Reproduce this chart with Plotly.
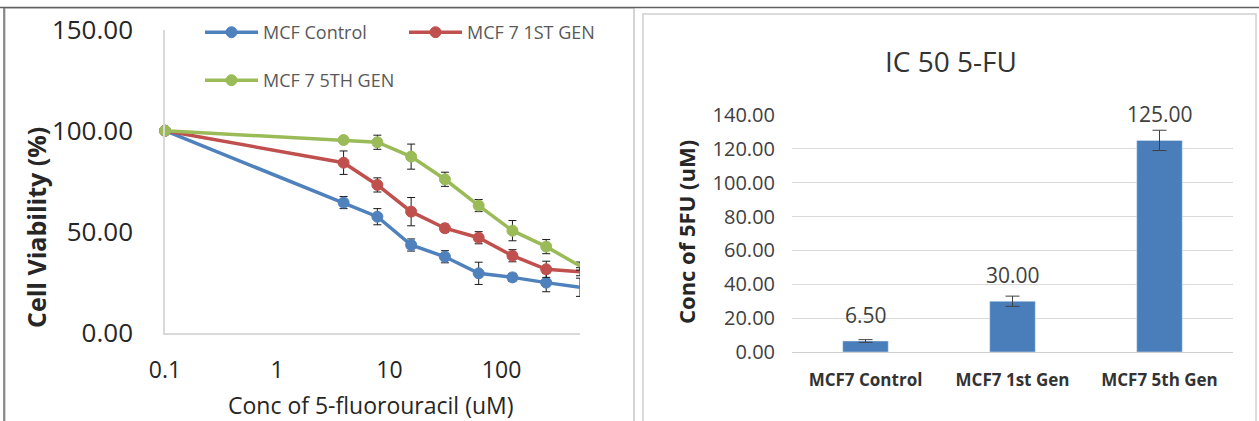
import plotly.graph_objects as go

# ---------------- data ----------------
conc = [0.1, 3.90625, 7.8125, 15.625, 31.25, 62.5, 125, 250, 500]
control = [100, 64.5, 57.5, 43.5, 37.7, 29.5, 27.5, 24.9, 22.6]
control_err = [0, 3, 4, 3, 3, 5.5, 2, 4.5, 4.5]
gen1 = [100, 84.2, 73.2, 60.0, 51.8, 47.1, 38.2, 31.5, 30.3]
gen1_err = [0, 5.8, 3.5, 7, 2, 3, 3, 4, 2]
gen5 = [100, 95.4, 94.3, 87.2, 76.0, 63.0, 50.6, 42.7, 33.1]
gen5_err = [0, 1, 3.5, 6.2, 3.5, 3, 5, 3.5, 2]
series_names = ["MCF Control", "MCF 7 1ST GEN", "MCF 7 5TH GEN"]

x_tickvals = [0.1, 1, 10, 100]
x_ticktext = ["0.1", "1", "10", "100"]
y1_tickvals = [0, 50, 100, 150]

ic_cats = ["MCF7 Control", "MCF7 1st Gen", "MCF7 5th Gen"]
ic50 = [6.5, 30, 125]
ic50_err = [0.8, 3, 6]
y2_tickvals = [0, 20, 40, 60, 80, 100, 120, 140]

# ---------------- layout helpers (pixel geometry) ----------------
W, H = 1259, 421
def px(x):
    return x / W
def py(y):
    return (H - y) / H

BLUE, RED, GREEN = "#4F81BD", "#C0504D", "#9BBB59"
FONT = "Open Sans"

fig = go.Figure()

for name, vals, err, col, lg in [
    (series_names[0], control, control_err, BLUE, "legend"),
    (series_names[1], gen1, gen1_err, RED, "legend"),
    (series_names[2], gen5, gen5_err, GREEN, "legend2"),
]:
    fig.add_trace(go.Scatter(
        x=conc, y=vals, name=name, mode="lines+markers",
        line=dict(color=col, width=3.5),
        marker=dict(color=col, size=11, line=dict(color=col, width=1)),
        error_y=dict(type="data", array=err, visible=True, color="#1a1a1a",
                     thickness=1, width=4),
        cliponaxis=False, xaxis="x", yaxis="y", legend=lg,
    ))

fig.add_trace(go.Bar(
    x=ic_cats, y=ic50, marker=dict(color="#4A7EBB"), width=0.31,
    error_y=dict(type="data", array=ic50_err, visible=True, color="#404040",
                 thickness=1, width=7),
    xaxis="x2", yaxis="y2", showlegend=False,
))

annotations = []
for c, v in zip(ic_cats, ic50):
    annotations.append(dict(x=c, y=v, xref="x2", yref="y2", text=f"{v:.2f}",
                            showarrow=False, yshift=26, xanchor="center", yanchor="middle",
                            font=dict(family=FONT, size=21, color="#404040")))

def ann(x, y, text, size, angle=0, color="#262626"):
    return dict(x=px(x), y=py(y), xref="paper", yref="paper", text=text,
                textangle=angle, showarrow=False, xanchor="center", yanchor="middle",
                font=dict(family=FONT, size=size, color=color))

annotations += [
    ann(36, 228, "<b>Cell Viability (%)</b>", 25, -90),
    ann(371, 404.5, "Conc of 5-fluorouracil (uM)", 23),
    ann(686, 232, "<b>Conc of 5FU (uM)</b>", 22, -90),
    ann(951, 61, "IC 50 5-FU", 28, 0, "#333333"),
]

shapes = [
    dict(type="rect", xref="paper", yref="paper", x0=px(5), x1=px(634),
         y0=py(430), y1=py(8), line=dict(color="#C8C8C8", width=1.5), layer="below"),
    dict(type="rect", xref="paper", yref="paper", x0=px(643), x1=px(1256),
         y0=py(430), y1=py(14), line=dict(color="#D0D0D0", width=1.5), layer="below"),
    dict(type="line", xref="paper", yref="paper", x0=px(4), x1=px(4),
         y0=py(430), y1=py(8), line=dict(color="#6E6E6E", width=1.5)),
    dict(type="line", xref="paper", yref="paper", x0=0, x1=1,
         y0=py(7.5), y1=py(7.5), line=dict(color="#606060", width=1.5)),
]

fig.update_layout(
    width=W, height=H, margin=dict(l=0, r=0, t=0, b=0, autoexpand=False),
    paper_bgcolor="white", plot_bgcolor="white",
    font=dict(family=FONT),
    xaxis=dict(type="log", domain=[px(165), px(580)], automargin=False,
               range=[-1, 2.69897], tickvals=x_tickvals, ticktext=x_ticktext,
               showgrid=False, zeroline=False, showline=True, linecolor="#D9D9D9",
               linewidth=1.5, ticks="", ticklabelstandoff=16,
               tickfont=dict(family=FONT, size=23, color="#262626"), anchor="y"),
    yaxis=dict(domain=[py(333), py(29.6)], range=[0, 150], tickvals=y1_tickvals,
               automargin=False,
               tickformat=".2f", showgrid=False, zeroline=False, showline=True,
               linecolor="#D9D9D9", linewidth=1.5, ticks="", ticklabelstandoff=25,
               tickfont=dict(family=FONT, size=26, color="#262626"), anchor="x"),
    xaxis2=dict(domain=[px(792), px(1233)], showgrid=False, zeroline=False,
                automargin=False,
                showline=False, ticks="", ticklabelstandoff=16,
                tickfont=dict(family=FONT, size=17, color="#333333"),
                tickprefix="<b>", ticksuffix="</b>", anchor="y2"),
    yaxis2=dict(domain=[py(352), py(115)], range=[0, 140], tickvals=y2_tickvals,
                automargin=False,
                tickformat=".2f", showgrid=True, gridcolor="#D9D9D9", gridwidth=1.2,
                zeroline=True, zerolinecolor="#D0D0D0", zerolinewidth=1.2,
                showline=False, ticks="", ticklabelstandoff=16,
                tickfont=dict(family=FONT, size=20, color="#404040"), anchor="x2"),
    legend=dict(orientation="h", x=px(200), y=py(14), xanchor="left", yanchor="top",
                bgcolor="rgba(0,0,0,0)", entrywidth=136, entrywidthmode="pixels",
                itemwidth=53,
                font=dict(family=FONT, size=18, color="#595959")),
    legend2=dict(orientation="h", x=px(200), y=py(62), xanchor="left", yanchor="top",
                 bgcolor="rgba(0,0,0,0)", itemwidth=53,
                 font=dict(family=FONT, size=18, color="#595959")),
    annotations=annotations, shapes=shapes, bargap=0.69,
)

fig.write_html("out.html")
